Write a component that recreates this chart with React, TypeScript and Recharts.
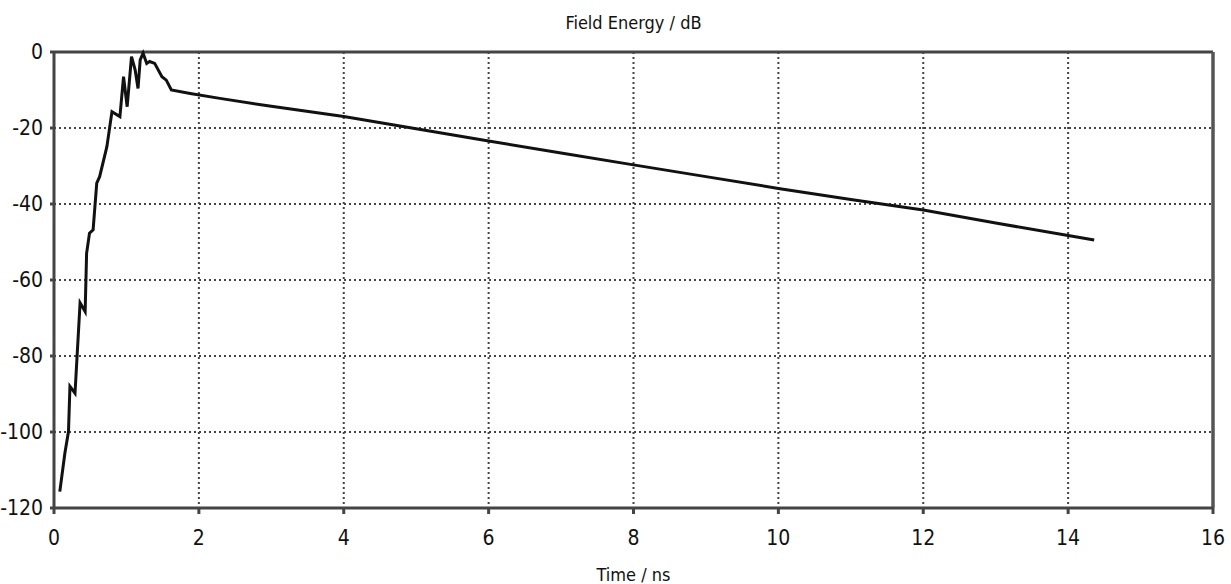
import React from "react";
import {
  CartesianGrid,
  Line,
  LineChart,
  ReferenceLine,
  XAxis,
  YAxis,
} from "recharts";

const timeNs = [
  0.08, 0.15, 0.2, 0.22, 0.29, 0.31, 0.36, 0.43, 0.45, 0.49, 0.54, 0.59, 0.63,
  0.73, 0.8, 0.91, 0.96, 1.01, 1.07, 1.12, 1.16, 1.19, 1.23, 1.28, 1.32, 1.39,
  1.49, 1.55, 1.62, 1.88, 2.29, 3, 4, 5, 6, 7, 8, 9, 10, 11, 12, 13, 14, 14.36,
];
const energyDb = [
  -115.7, -105.6, -99.9, -88, -89.8, -83, -66, -68.3, -53, -47.7, -46.8, -34.5,
  -32.8, -24.9, -15.7, -17, -6.5, -14.4, -1.2, -4.7, -9.6, -2.1, -0.3, -3, -2.5,
  -3, -6.5, -7.4, -10, -10.9, -12.2, -14.3, -17, -20.2, -23.4, -26.6, -29.7,
  -32.8, -35.9, -38.8, -41.6, -45, -48.3, -49.5,
];
const xTicks = [0, 2, 4, 6, 8, 10, 12, 14, 16];
const yTicks = [0, -20, -40, -60, -80, -100, -120];

const font = "'Liberation Sans Narrow', 'DejaVu Sans Condensed', 'Liberation Sans', sans-serif";

const data = timeNs.map((t, i) => ({ t, db: energyDb[i] }));

const App = () => {
  const tickStyle = { fill: "#111", fontSize: 21, fontFamily: font };

  return (
    <div style={{ position: "absolute", left: 0, top: 0, width: 1231, height: 584, background: "#fff" }}>
      <div
        style={{
          position: "absolute",
          left: 54,
          width: 1159,
          top: 12,
          textAlign: "center",
          fontFamily: font,
          fontSize: 18,
          color: "#111",
        }}
      >
        Field Energy / dB
      </div>
      <LineChart
        width={1231}
        height={584}
        data={data}
        margin={{ top: 52, right: 18, bottom: 0, left: 0 }}
      >
        <CartesianGrid stroke="#444" strokeDasharray="2 3" strokeWidth={2} />
        <XAxis
          dataKey="t"
          type="number"
          domain={[0, 16]}
          ticks={xTicks}
          height={76}
          stroke="#444"
          strokeWidth={3}
          tickSize={6}
          tickMargin={16}
          tick={tickStyle}
          label={{ value: "Time / ns", position: "insideBottom", offset: 3, fill: "#111", fontSize: 18, fontFamily: font }}
        />
        <YAxis
          type="number"
          domain={[-120, 0]}
          ticks={yTicks}
          width={54}
          stroke="#444"
          strokeWidth={3}
          tickSize={4}
          tickMargin={7}
          tick={tickStyle}
        />
        <ReferenceLine y={0} stroke="#444" strokeWidth={3} />
        <ReferenceLine x={16} stroke="#555" strokeWidth={3.5} />
        <Line
          type="linear"
          dataKey="db"
          stroke="#111"
          strokeWidth={3}
          dot={false}
          isAnimationActive={false}
        />
      </LineChart>
    </div>
  );
};

export default App;
